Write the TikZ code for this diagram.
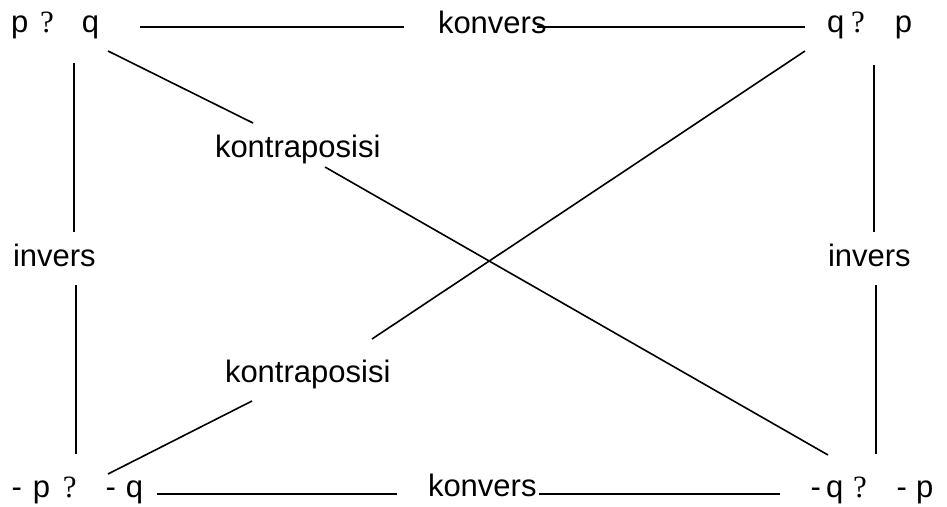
\documentclass[tikz,border=0pt]{standalone}
\usepackage{fontspec}
\setmainfont{Liberation Sans}
\newfontfamily\qmark{Liberation Serif}
\newcommand{\Q}{{\qmark ?}}
\begin{document}
\begin{tikzpicture}[x=1pt,y=-1pt,
  lbl/.style={anchor=base west,inner sep=0pt,outer sep=0pt,
              font=\fontsize{31}{37}\selectfont},
  link/.style={line width=1.6pt}]
\useasboundingbox (0,0) rectangle (947,506);

% the four statements
\node[lbl] (pq)   at (11,32)     {p\hspace{11.8pt}\Q\hspace{28pt}q};
\node[lbl] (qp)   at (827,32)    {q\hspace{6.8pt}\Q\hspace{30pt}p};
\node[lbl] (npnq) at (11.6,497)  {-\hspace{11pt}p\hspace{12.8pt}\Q\hspace{28.8pt}-\hspace{10.1pt}q};
\node[lbl] (nqnp) at (810.6,497) {-\hspace{5.1pt}q\hspace{9.8pt}\Q\hspace{29.8pt}-\hspace{9.1pt}p};

% relation names
\node[lbl] (konvT)  at (438,33)  {konvers};
\node[lbl] (konvB)  at (428,496) {konvers};
\node[lbl] (kontrT) at (215,157) {kontraposisi};
\node[lbl] (kontrB) at (225,382) {kontraposisi};
\node[lbl] (invL)   at (13,266)  {invers};
\node[lbl] (invR)   at (828,266) {invers};

% line ends
\coordinate (t1a) at (140,27);  \coordinate (t1b) at (404,27);
\coordinate (t2a) at (537,27);  \coordinate (t2b) at (805,27);
\coordinate (b1a) at (157,494); \coordinate (b1b) at (397,494);
\coordinate (b2a) at (539,494); \coordinate (b2b) at (780,494);
\coordinate (l1a) at (74,63);   \coordinate (l1b) at (74,232);
\coordinate (l2a) at (76,285);  \coordinate (l2b) at (76,454);
\coordinate (r1a) at (874,65);  \coordinate (r1b) at (874,232);
\coordinate (r2a) at (876,285); \coordinate (r2b) at (876,454);
\coordinate (d1a) at (108,51);  \coordinate (d1b) at (253,123);
\coordinate (d1c) at (325,167); \coordinate (d1d) at (828,455);
\coordinate (d2a) at (805,51);  \coordinate (d2b) at (372,339);
\coordinate (d2c) at (252,401); \coordinate (d2d) at (108,474);

% konvers
\draw[link] (t1a) -- (t1b);
\draw[link] (t2a) -- (t2b);
\draw[link] (b1a) -- (b1b);
\draw[link] (b2a) -- (b2b);
% invers
\draw[link] (l1a) -- (l1b);
\draw[link] (l2a) -- (l2b);
\draw[link] (r1a) -- (r1b);
\draw[link] (r2a) -- (r2b);
% kontraposisi
\draw[link] (d1a) -- (d1b);
\draw[link] (d1c) -- (d1d);
\draw[link] (d2a) -- (d2b);
\draw[link] (d2c) -- (d2d);
\end{tikzpicture}
\end{document}
